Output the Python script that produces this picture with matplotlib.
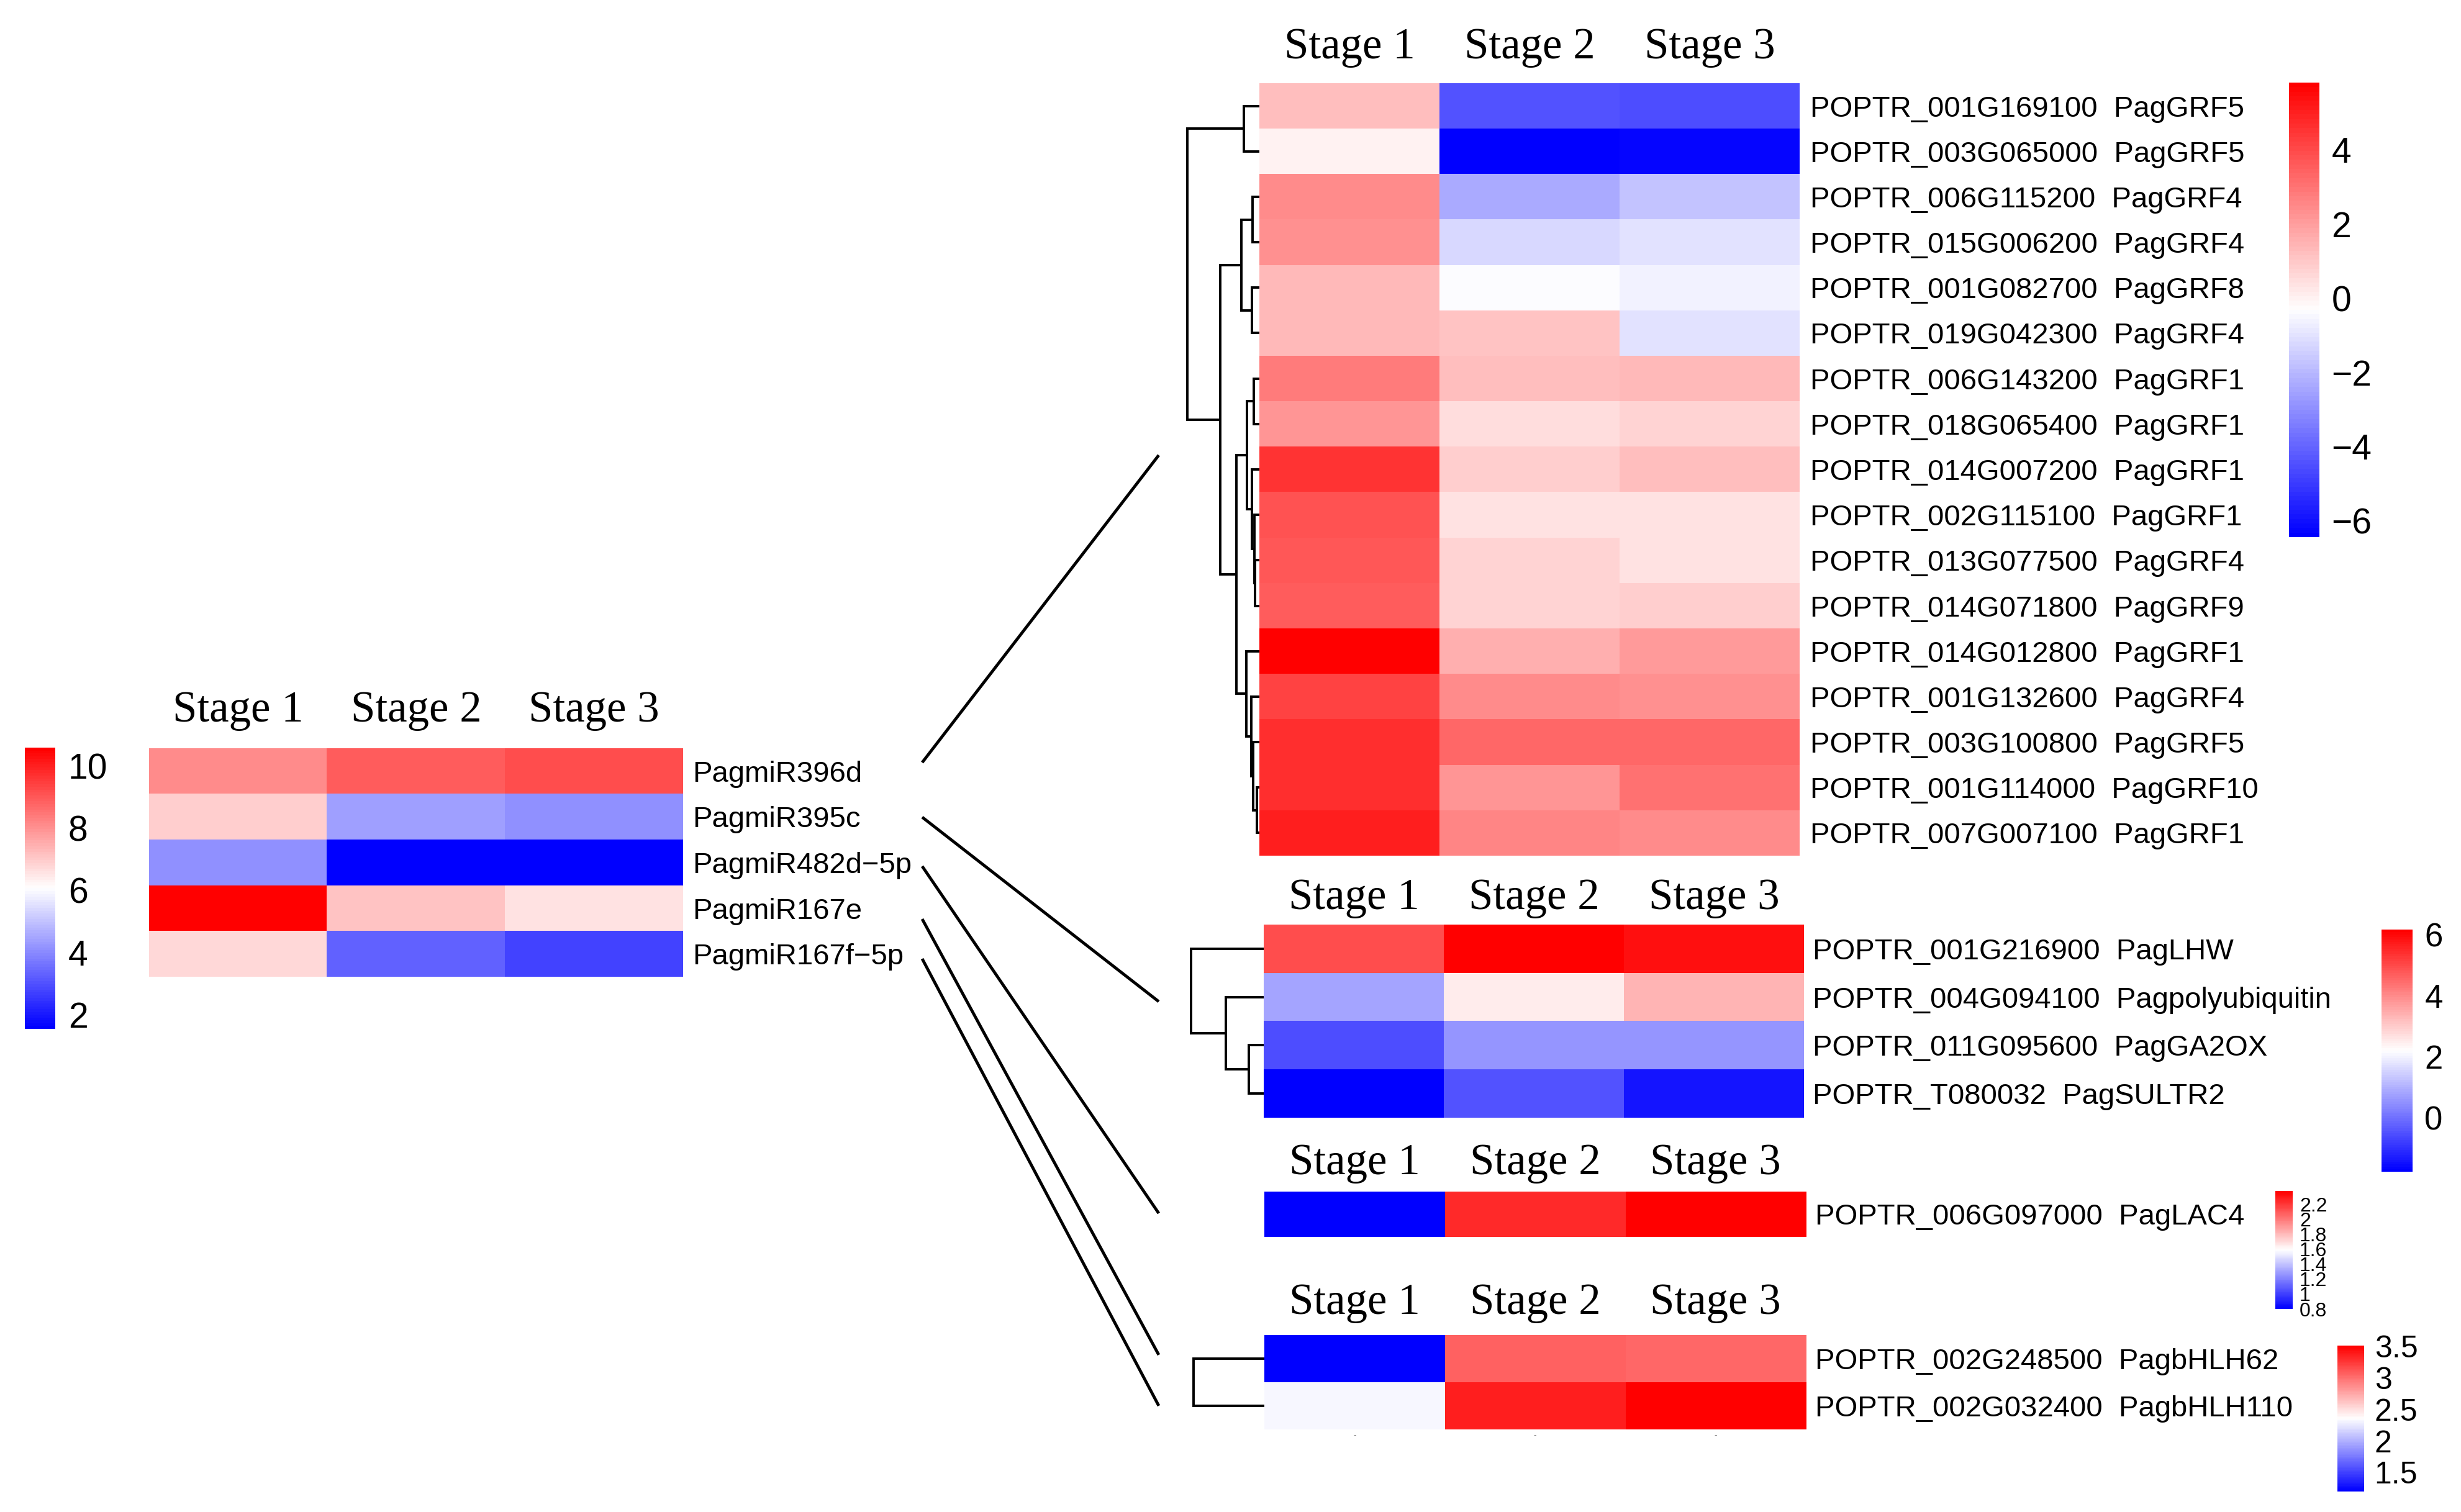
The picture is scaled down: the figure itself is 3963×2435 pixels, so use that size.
import numpy as np
import matplotlib
matplotlib.use('Agg')
import matplotlib.pyplot as plt
from matplotlib.colors import LinearSegmentedColormap
from matplotlib.ticker import FuncFormatter

# ---- data ----
stages = ['Stage 1', 'Stage 2', 'Stage 3']

mirna_names = ['PagmiR396d', 'PagmiR395c', 'PagmiR482d\u22125p', 'PagmiR167e', 'PagmiR167f\u22125p']
mirna_vals = [[8.1, 8.9, 9.2],
              [6.9, 4.4, 4.1],
              [4.1, 1.54, 1.6],
              [10.58, 7.1, 6.6],
              [6.7, 3.3, 2.8]]
mirna_range = (1.54, 10.58)
mirna_ticks = [2, 4, 6, 8, 10]

grf_ids = ['POPTR_001G169100', 'POPTR_003G065000', 'POPTR_006G115200', 'POPTR_015G006200',
           'POPTR_001G082700', 'POPTR_019G042300', 'POPTR_006G143200', 'POPTR_018G065400',
           'POPTR_014G007200', 'POPTR_002G115100', 'POPTR_013G077500', 'POPTR_014G071800',
           'POPTR_014G012800', 'POPTR_001G132600', 'POPTR_003G100800', 'POPTR_001G114000',
           'POPTR_007G007100']
grf_genes = ['PagGRF5', 'PagGRF5', 'PagGRF4', 'PagGRF4', 'PagGRF8', 'PagGRF4', 'PagGRF1',
             'PagGRF1', 'PagGRF1', 'PagGRF1', 'PagGRF4', 'PagGRF9', 'PagGRF1', 'PagGRF4',
             'PagGRF5', 'PagGRF10', 'PagGRF1']
grf_vals = [[1.2, -4.4, -4.5],
            [-0.01, -6.44, -6.3],
            [2.4, -2.3, -1.76],
            [2.35, -1.28, -1.04],
            [1.33, -0.35, -0.68],
            [1.33, 1.12, -1.0],
            [2.8, 1.2, 1.33],
            [2.2, 0.48, 0.78],
            [4.58, 0.9, 1.2],
            [3.8, 0.32, 0.32],
            [3.66, 0.78, 0.4],
            [3.5, 0.78, 0.8],
            [5.81, 1.6, 2.1],
            [4.1, 2.4, 2.3],
            [4.6, 3.3, 3.3],
            [4.7, 2.2, 3.05],
            [5.07, 2.56, 2.4]]
grf_range = (-6.44, 5.81)
grf_ticks = [-6, -4, -2, 0, 2, 4]
# dendrogram: (height, left, right), leaves are row indices
grf_tree = (116, (25, 0, 1),
            (63, (29, (11, 2, 3), (12, 4, 5)),
             (37, (20, (9, 6, 7), (12, 8, (8.5, 9, (7, 10, 11)))),
              (21.5, 12, (13, 13, (10, 14, (4, 15, 16)))))))

mid_ids = ['POPTR_001G216900', 'POPTR_004G094100', 'POPTR_011G095600', 'POPTR_T080032']
mid_genes = ['PagLHW', 'Pagpolyubiquitin', 'PagGA2OX', 'PagSULTR2']
mid_vals = [[4.97, 6.16, 5.85],
            [0.8, 2.51, 3.35],
            [-0.58, 0.57, 0.57],
            [-1.77, -0.46, -1.45]]
mid_range = (-1.77, 6.16)
mid_ticks = [0, 2, 4, 6]
mid_tree = (116, 0, (60, 1, (24, 2, 3)))

lac_ids = ['POPTR_006G097000']
lac_genes = ['PagLAC4']
lac_vals = [[0.8, 2.24, 2.38]]
lac_range = (0.8, 2.38)
lac_ticks = [0.8, 1.0, 1.2, 1.4, 1.6, 1.8, 2.0, 2.2]

bhlh_ids = ['POPTR_002G248500', 'POPTR_002G032400']
bhlh_genes = ['PagbHLH62', 'PagbHLH110']
bhlh_vals = [[1.2, 3.05, 3.03],
             [2.31, 3.37, 3.51]]
bhlh_range = (1.2, 3.51)
bhlh_ticks = [1.5, 2.0, 2.5, 3.0, 3.5]
bhlh_tree = (114, 0, 1)

# miRNA row -> target (start y, end y) in figure pixels
links = [(1228, 733), (1316, 1613), (1395, 1954), (1480, 2182), (1544, 2264)]

# ---- layout ----
W, H = 3963, 2435
DPI = 100
SERIF = ['Liberation Serif', 'DejaVu Serif']
SANS = ['Liberation Sans', 'DejaVu Sans']

cmap = LinearSegmentedColormap.from_list('ph', ['#0000ff', '#ffffff', '#ff0000'], N=100)

fig = plt.figure(figsize=(W / DPI, H / DPI), dpi=DPI)


def box(x0, y0, x1, y1):
    return [x0 / W, 1 - y1 / H, (x1 - x0) / W, (y1 - y0) / H]


def heatmap(rect, vals, labels, vrange, head_pad, lab_pad):
    ax = fig.add_axes(box(*rect))
    im = ax.imshow(np.array(vals), cmap=cmap, vmin=vrange[0], vmax=vrange[1],
                   aspect='auto', interpolation='nearest')
    ax.set_xticks(range(len(stages)))
    ax.set_xticklabels(stages, family=SERIF, fontsize=51)
    ax.xaxis.tick_top()
    ax.set_yticks(range(len(labels)))
    ax.set_yticklabels(labels, family=SANS, fontsize=34)
    ax.yaxis.tick_right()
    ax.tick_params(axis='x', length=0, pad=head_pad)
    ax.tick_params(axis='y', length=0, pad=lab_pad)
    for s in ax.spines.values():
        s.set_visible(False)
    return ax, im


def fmt(v, pos):
    return ('%g' % v).replace('-', '\u2212')


def colorbar(im, rect, ticks, fs, pad):
    cax = fig.add_axes(box(*rect))
    cb = fig.colorbar(im, cax=cax, ticks=ticks)
    cb.outline.set_visible(False)
    cax.yaxis.set_major_formatter(FuncFormatter(fmt))
    cax.tick_params(length=0, labelsize=fs, pad=pad)
    for t in cax.get_yticklabels():
        t.set_family(SANS)
    return cb


def dendro(rect, tree, n, hmax):
    ax = fig.add_axes(box(*rect))
    ax.set_xlim(hmax, 0)
    ax.set_ylim(n - 0.5, -0.5)
    ax.axis('off')

    def walk(node):
        if isinstance(node, int):
            return node, 0
        h, a, b = node
        ya, ha = walk(a)
        yb, hb = walk(b)
        ax.plot([ha, h, h, hb], [ya, ya, yb, yb], color='black', lw=2.8,
                clip_on=False, solid_joinstyle='miter', solid_capstyle='butt')
        return (ya + yb) / 2, h
    walk(tree)


# left miRNA heatmap
ax, im = heatmap((240, 1205, 1100, 1573), mirna_vals, mirna_names, mirna_range, 20, 11)
colorbar(im, (40, 1204, 89, 1657), mirna_ticks, 41, 15)

# GRF heatmap
lab = [a + '  ' + b for a, b in zip(grf_ids, grf_genes)]
ax, im = heatmap((2028, 134, 2898, 1378), grf_vals, lab, grf_range, 18, 12)
colorbar(im, (3686, 133, 3735, 865), grf_ticks, 41, 14)
dendro((1912, 134, 2028, 1378), grf_tree, len(grf_ids), 116)

# middle heatmap
lab = [a + '  ' + b for a, b in zip(mid_ids, mid_genes)]
ax, im = heatmap((2035, 1489, 2905, 1800), mid_vals, lab, mid_range, 7, 10)
colorbar(im, (3835, 1497, 3885, 1887), mid_ticks, 38, 14)
dendro((1918, 1489, 2035, 1800), mid_tree, len(mid_ids), 116)

# LAC4 heatmap
lab = [a + '  ' + b for a, b in zip(lac_ids, lac_genes)]
ax, im = heatmap((2036, 1919, 2908, 1992), lac_vals, lab, lac_range, 9, 11)
colorbar(im, (3664, 1918, 3692, 2108), lac_ticks, 23, 8)

# bHLH heatmap
lab = [a + '  ' + b for a, b in zip(bhlh_ids, bhlh_genes)]
ax, im = heatmap((2036, 2150, 2908, 2302), bhlh_vals, lab, bhlh_range, 14, 11)
sec = ax.secondary_xaxis('bottom')
sec.set_xticks(range(len(stages)))
sec.set_xticklabels(['-'] * len(stages), fontsize=9, color='0.45')
sec.tick_params(length=0, pad=2)
for s in sec.spines.values():
    s.set_visible(False)
colorbar(im, (3764, 2167, 3807, 2402), bhlh_ticks, 36, 12)
dendro((1922, 2150, 2036, 2302), bhlh_tree, len(bhlh_ids), 114)

# connecting lines
ov = fig.add_axes([0, 0, 1, 1])
ov.set_xlim(0, W)
ov.set_ylim(H, 0)
ov.axis('off')
for ys, ye in links:
    ov.plot([1485, 1866], [ys, ye], color='black', lw=3.5, solid_capstyle='butt')

fig.savefig('out.png', dpi=DPI, facecolor='white')
